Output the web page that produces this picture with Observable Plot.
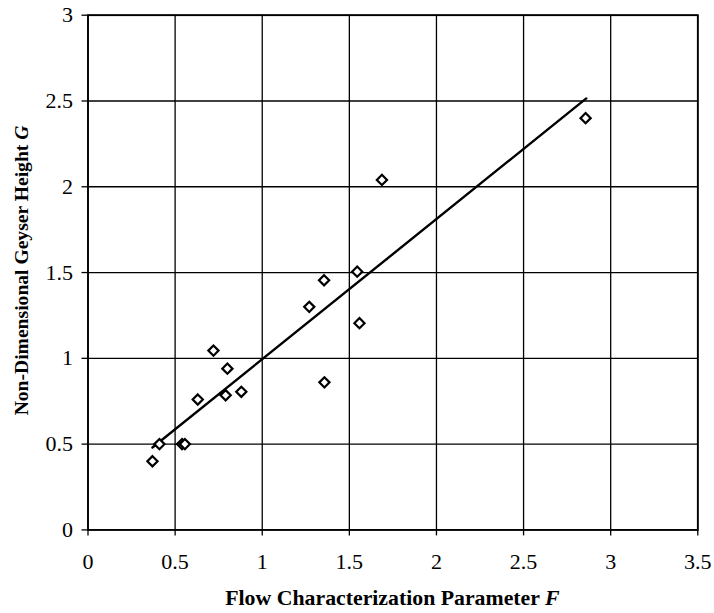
<!DOCTYPE html>
<html>
<head>
<meta charset="utf-8">
<script src="https://cdn.jsdelivr.net/npm/d3@7"></script>
<script src="https://cdn.jsdelivr.net/npm/@observablehq/plot@0.6"></script>
<style>
  html, body { margin: 0; padding: 0; background: #fff; }
  #chart svg { display: block; }
</style>
</head>
<body>
<div id="chart"></div>
<script>
// Measured data: flow characterization parameter F vs non-dimensional geyser height G
const F = [0.37, 0.41, 0.54, 0.556, 0.63, 0.72, 0.79, 0.80, 0.88, 1.27, 1.355, 1.357, 1.545, 1.558, 1.687, 2.856];
const G = [0.40, 0.50, 0.50, 0.50, 0.76, 1.045, 0.785, 0.94, 0.805, 1.30, 1.455, 0.86, 1.505, 1.205, 2.04, 2.40];
// Fitted trend line endpoints
const lineF = [0.37, 2.86];
const lineG = [0.48, 2.515];
// Tick values
const xTicks = [0, 0.5, 1, 1.5, 2, 2.5, 3, 3.5];
const yTicks = [0, 0.5, 1, 1.5, 2, 2.5, 3];
const xTitle = ["Flow Characterization Parameter ", "F"];
const yTitle = ["Non-Dimensional Geyser Height ", "G"];

const points = F.map((f, i) => ({F: f, G: G[i]}));
const fit = lineF.map((f, i) => ({F: f, G: lineG[i]}));

const W = 714, H = 613;
const mL = 87.5, mR = 16.7, mT = 14.7, mB = 83.6;
const font = "'Liberation Serif', 'Times New Roman', serif";

const chart = Plot.plot({
  width: W,
  height: H,
  marginLeft: mL,
  marginRight: mR,
  marginTop: mT,
  marginBottom: mB,
  style: {fontFamily: font, fontSize: "22px", color: "#000", background: "#fff"},
  x: {domain: [0, 3.5], ticks: xTicks, tickFormat: d3.format("~g"), label: null},
  y: {domain: [0, 3], ticks: yTicks, tickFormat: d3.format("~g"), label: null},
  marks: [
    Plot.gridX(xTicks, {stroke: "#000", strokeOpacity: 1, strokeWidth: 1.3}),
    Plot.gridY(yTicks, {stroke: "#000", strokeOpacity: 1, strokeWidth: 1.3}),
    Plot.frame({stroke: "#000", strokeWidth: 1.8}),
    Plot.axisX(xTicks, {tickSize: 6, tickPadding: 17, fontSize: 22, tickFormat: d3.format("~g"), label: null, strokeWidth: 1.3}),
    Plot.axisY(yTicks, {tickSize: 6, tickPadding: 9, fontSize: 22, tickFormat: d3.format("~g"), label: null, strokeWidth: 1.3}),
    Plot.line(fit, {x: "F", y: "G", stroke: "#000", strokeWidth: 2.4}),
    Plot.dot(points, {x: "F", y: "G", symbol: "diamond2", r: 4.6, stroke: "#000", strokeWidth: 2.2, fill: "#fff"})
  ]
});

const svg = d3.select(chart);
// X axis title with italic symbol
const xt = svg.append("text")
  .attr("x", (mL + (W - mR)) / 2)
  .attr("y", 605)
  .attr("text-anchor", "middle")
  .attr("font-family", font)
  .attr("font-size", 21.8)
  .attr("font-weight", "bold")
  .attr("fill", "#000");
xt.append("tspan").text(xTitle[0]);
xt.append("tspan").attr("font-style", "italic").text(xTitle[1]);

// Y axis title, rotated
const yt = svg.append("text")
  .attr("transform", `translate(28,270.5) rotate(-90)`)
  .attr("text-anchor", "middle")
  .attr("font-family", font)
  .attr("font-size", 19.6)
  .attr("font-weight", "bold")
  .attr("fill", "#000");
yt.append("tspan").text(yTitle[0]);
yt.append("tspan").attr("font-style", "italic").text(yTitle[1]);

document.getElementById("chart").appendChild(chart);
</script>
</body>
</html>
